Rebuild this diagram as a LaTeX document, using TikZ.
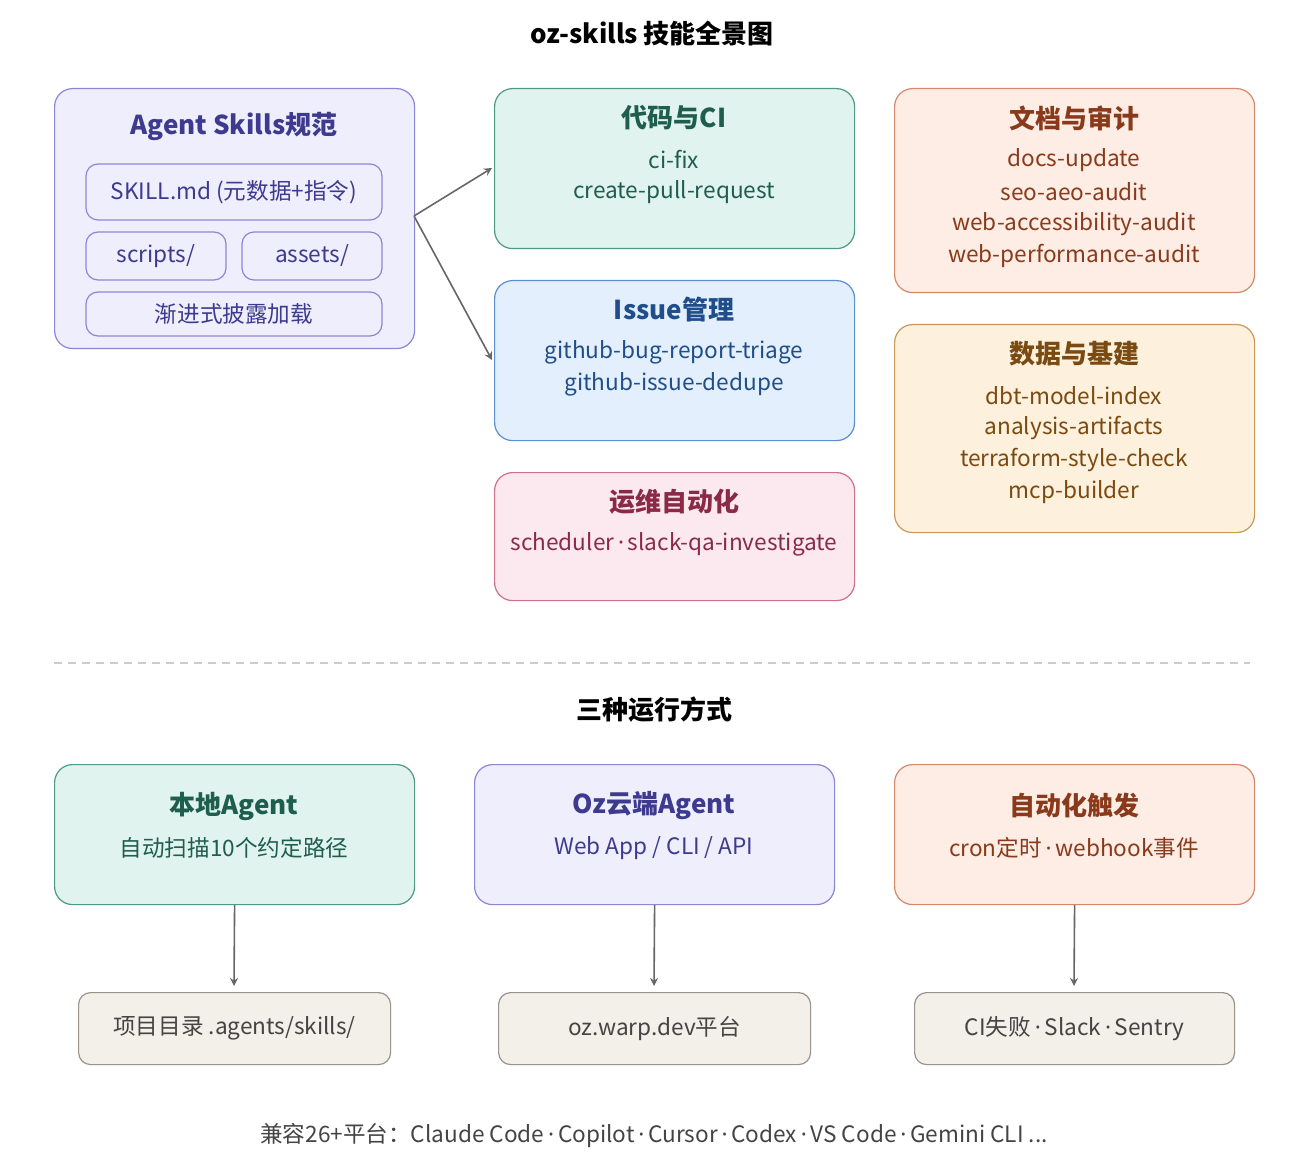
\documentclass[tikz,border=0pt]{standalone}
\usepackage{fontspec}
\setmainfont{Noto Sans CJK SC}
\newfontfamily\latinf{Noto Sans}
\newcommand{\md}{\,{\latinf ·}\,}
\begin{document}
\begin{tikzpicture}[x=0.5pt,y=-0.5pt,
  box/.style={draw, rounded corners=9pt, line width=0.6pt, anchor=north west, inner sep=0pt},
  ttl/.style={font=\fontsize{13}{15}\selectfont\bfseries},
  txt/.style={font=\fontsize{11.3}{13}\selectfont},
  arr/.style={draw=gray!80!black, line width=0.8pt, ->, >=stealth}]
\definecolor{lavF}{HTML}{EEEEFC}\definecolor{lavD}{HTML}{8C86D6}\definecolor{lavT}{HTML}{3D3A8F}
\definecolor{grnF}{HTML}{E1F3EE}\definecolor{grnD}{HTML}{4E9A82}\definecolor{grnT}{HTML}{1E5E4C}
\definecolor{bluF}{HTML}{E3EFFC}\definecolor{bluD}{HTML}{5A8FD0}\definecolor{bluT}{HTML}{1F4E8A}
\definecolor{pnkF}{HTML}{FCE9EF}\definecolor{pnkD}{HTML}{D0708A}\definecolor{pnkT}{HTML}{8A2A48}
\definecolor{orgF}{HTML}{FDEDE4}\definecolor{orgD}{HTML}{D48A6A}\definecolor{orgT}{HTML}{8A3A1A}
\definecolor{ylwF}{HTML}{FDF0DC}\definecolor{ylwD}{HTML}{C99A5A}\definecolor{ylwT}{HTML}{7A4A10}
\definecolor{gryF}{HTML}{F3EFE9}\definecolor{gryD}{HTML}{9A948C}\definecolor{gryT}{HTML}{444444}
\useasboundingbox[fill=white] (0,0) rectangle (1304,1170);
\node[ttl] (title) at (652,34) {oz-skills 技能全景图};
% Agent skills
\node[box, fill=lavF, draw=lavD, minimum width=180pt, minimum height=130pt] (as) at (54,88) {};
\node[ttl, text=lavT] (ast) at (234,126) {Agent Skills规范};
\node[box, draw=lavD, text=lavT, txt, rounded corners=6pt, minimum width=148pt, minimum height=28pt, anchor=center] (sk) at (234,192) {SKILL.md (元数据+指令)};
\node[box, draw=lavD, text=lavT, txt, rounded corners=6pt, minimum width=70pt, minimum height=24pt, anchor=center] (sc) at (156,256) {scripts/};
\node[box, draw=lavD, text=lavT, txt, rounded corners=6pt, minimum width=70pt, minimum height=24pt, anchor=center] (asd) at (312,256) {assets/};
\node[box, draw=lavD, text=lavT, txt, rounded corners=6pt, minimum width=148pt, minimum height=22pt, anchor=center] (pr) at (234,314) {渐进式披露加载};
% code CI
\node[box, fill=grnF, draw=grnD, minimum width=180pt, minimum height=80pt] (ci) at (494,88) {};
\node[ttl, text=grnT] at (674,118) {代码与CI};
\node[txt, text=grnT] at (674,160) {ci-fix};
\node[txt, text=grnT] at (674,192) {create-pull-request};
% issue
\node[box, fill=bluF, draw=bluD, minimum width=180pt, minimum height=80pt] (is) at (494,280) {};
\node[ttl, text=bluT] at (674,310) {Issue管理};
\node[txt, text=bluT] at (674,352) {github-bug-report-triage};
\node[txt, text=bluT] at (674,384) {github-issue-dedupe};
% ops
\node[box, fill=pnkF, draw=pnkD, minimum width=180pt, minimum height=64pt] (op) at (494,472) {};
\node[ttl, text=pnkT] at (674,502) {运维自动化};
\node[txt, text=pnkT] at (674,544) {scheduler\md slack-qa-investigate};
% docs
\node[box, fill=orgF, draw=orgD, minimum width=180pt, minimum height=102pt] (dc) at (894,88) {};
\node[ttl, text=orgT] at (1074,118) {文档与审计};
\node[txt, text=orgT] at (1074,160) {docs-update};
\node[txt, text=orgT] at (1074,192) {seo-aeo-audit};
\node[txt, text=orgT] at (1074,224) {web-accessibility-audit};
\node[txt, text=orgT] at (1074,256) {web-performance-audit};
% data
\node[box, fill=ylwF, draw=ylwD, minimum width=180pt, minimum height=104pt] (dt) at (894,324) {};
\node[ttl, text=ylwT] at (1074,354) {数据与基建};
\node[txt, text=ylwT] at (1074,396) {dbt-model-index};
\node[txt, text=ylwT] at (1074,428) {analysis-artifacts};
\node[txt, text=ylwT] at (1074,460) {terraform-style-check};
\node[txt, text=ylwT] at (1074,492) {mcp-builder};
% arrows
\coordinate (src) at (414,216);
\coordinate (t1) at (492,168);
\coordinate (t2) at (492,360);
\draw[arr] (src) -- (t1);
\draw[arr] (src) -- (t2);
% divider
\draw[gray!40, dash pattern=on 4pt off 3pt, line width=0.6pt] (54,663) -- (1250,663);
\node[ttl] (sub) at (654,710) {三种运行方式};
% run modes
\node[box, fill=grnF, draw=grnD, minimum width=180pt, minimum height=70pt] (la) at (54,764) {};
\node[ttl, text=grnT] at (234,806) {本地Agent};
\node[txt, text=grnT] at (234,848) {自动扫描10个约定路径};
\node[box, fill=lavF, draw=lavD, minimum width=180pt, minimum height=70pt] (oz) at (474,764) {};
\node[ttl, text=lavT] at (654,806) {Oz云端Agent};
\node[txt, text=lavT] at (654,848) {Web App / CLI / API};
\node[box, fill=orgF, draw=orgD, minimum width=180pt, minimum height=70pt] (au) at (894,764) {};
\node[ttl, text=orgT] at (1074,806) {自动化触发};
\node[txt, text=orgT] at (1074,848) {cron定时\md webhook事件};
% targets
\node[box, fill=gryF, draw=gryD, text=gryT, txt, rounded corners=6pt, minimum width=156pt, minimum height=36pt] (p1) at (78,992) {项目目录 .agents/skills/};
\node[box, fill=gryF, draw=gryD, text=gryT, txt, rounded corners=6pt, minimum width=156pt, minimum height=36pt] (p2) at (498,992) {oz.warp.dev平台};
\node[box, fill=gryF, draw=gryD, text=gryT, txt, rounded corners=6pt, minimum width=160pt, minimum height=36pt] (p3) at (914,992) {CI失败\md Slack\md Sentry};
\draw[arr] (la.south) -- (234,986);
\draw[arr] (oz.south) -- (654,986);
\draw[arr] (au.south) -- (1074,986);
\node[txt, text=gryT] (foot) at (654,1136) {兼容26+平台：Claude Code\md Copilot\md Cursor\md Codex\md VS Code\md Gemini CLI ...};
\end{tikzpicture}
\end{document}
